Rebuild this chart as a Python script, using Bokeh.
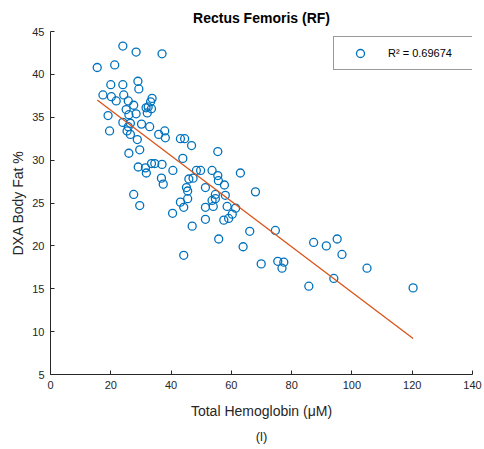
from bokeh.plotting import figure
from bokeh.models import Range1d, FixedTicker, Legend, LegendItem, Title
from bokeh.embed import file_html
from bokeh.resources import INLINE

thb = [24.0, 28.4, 37.0, 15.5, 21.3, 20.0, 24.0, 29.0, 29.3, 17.4,
       20.2, 21.8, 24.3, 25.8, 33.7, 33.2, 32.4, 31.7, 33.5, 27.6,
       25.1, 28.4, 26.0, 32.1, 19.1, 24.0, 26.5, 25.8, 30.2, 32.9,
       19.6, 25.4, 26.5, 35.9, 37.9, 38.1, 28.8, 43.1, 44.5, 46.8,
       26.0, 29.6, 29.1, 31.8, 31.5, 33.5, 34.6, 37.0, 40.6, 43.9,
       36.8, 37.4, 27.6, 29.6, 40.5, 43.1, 44.2, 47.0, 55.5, 48.4,
       49.8, 53.6, 63.0, 45.9, 47.3, 55.5, 55.7, 57.7, 45.1, 45.5,
       51.4, 68.0, 45.5, 54.7, 58.0, 53.6, 54.7, 51.4, 54.0, 58.6,
       61.4, 60.3, 59.1, 57.5, 51.4, 74.6, 66.1, 55.8, 63.9, 44.2,
       69.9, 75.4, 77.4, 76.8, 87.3, 91.5, 95.1, 96.7, 105.0, 94.0,
       85.7, 120.3]
fat = [43.3, 42.6, 42.4, 40.8, 41.1, 38.8, 38.8, 39.2, 38.3, 37.6,
       37.4, 36.9, 37.6, 36.9, 37.2, 36.8, 36.2, 36.1, 36.0, 36.4,
       35.9, 35.4, 35.3, 35.5, 35.2, 34.4, 34.3, 33.9, 34.2, 33.9,
       33.4, 33.4, 33.0, 33.0, 33.4, 32.6, 32.4, 32.5, 32.5, 31.7,
       30.8, 31.2, 29.2, 28.5, 29.1, 29.6, 29.6, 29.5, 28.8, 30.2,
       27.9, 27.2, 26.0, 24.7, 23.8, 25.1, 24.5, 22.3, 31.0, 28.8,
       28.8, 28.8, 28.5, 27.8, 27.9, 28.2, 27.6, 27.1, 26.8, 26.4,
       26.8, 26.3, 25.5, 26.0, 25.9, 25.3, 25.5, 24.5, 24.6, 24.6,
       24.4, 23.7, 23.2, 23.0, 23.1, 21.8, 21.7, 20.8, 19.9, 18.9,
       17.9, 18.2, 18.1, 17.4, 20.4, 20.0, 20.8, 19.0, 17.4, 16.2,
       15.3, 15.1]
fit_x = [15.5, 120.3]
fit_y = [37.0, 9.2]
x_ticks = [0, 20, 40, 60, 80, 100, 120, 140]
y_ticks = [5, 10, 15, 20, 25, 30, 35, 40, 45]

FONT = "Liberation Sans"
BLUE = "#0072BD"
ORANGE = "#D95319"
GREY = "#262626"

p = figure(width=484, height=449, output_backend="svg", toolbar_location=None,
           x_range=Range1d(0, 140), y_range=Range1d(5, 45),
           min_border_left=50, min_border_right=12, min_border_top=31,
           min_border_bottom=73)
p.outline_line_color = None
p.grid.visible = False
p.background_fill_color = "white"
p.border_fill_color = "white"

p.title.text = "Rectus Femoris (RF)"
p.title.align = "center"
p.title.text_font = FONT
p.title.text_font_size = "14px"
p.title.text_font_style = "bold"
p.title.text_color = "#000000"
p.title.standoff = 12

for ax in (p.xaxis[0], p.yaxis[0]):
    ax.major_tick_in = 4
    ax.major_tick_out = 0
    ax.minor_tick_line_color = None
    ax.axis_line_color = GREY
    ax.major_tick_line_color = GREY
    ax.major_label_text_font = FONT
    ax.major_label_text_font_size = "11px"
    ax.major_label_text_color = GREY
    ax.axis_label_text_font = FONT
    ax.axis_label_text_font_size = "14px"
    ax.axis_label_text_font_style = "normal"
    ax.axis_label_text_color = GREY

p.xaxis.ticker = FixedTicker(ticks=x_ticks)
p.yaxis.ticker = FixedTicker(ticks=y_ticks)
p.xaxis.major_label_standoff = 6
p.yaxis.major_label_standoff = 6
p.yaxis.axis_label = "DXA Body Fat %"
p.yaxis.axis_label_standoff = 3
p.xaxis.axis_label = "Total Hemoglobin (\u03bcM)"
p.xaxis.axis_label_standoff = 11

sc = p.scatter(thb, fat, size=8, marker="circle", fill_color=None,
               line_color=BLUE, line_width=1.3)
p.line(fit_x, fit_y, line_color=ORANGE, line_width=1.3)

leg = Legend(items=[LegendItem(label="R\u00b2 = 0.69674", renderers=[sc])],
             location=(283, 304), orientation="vertical")
leg.label_text_font = FONT
leg.label_text_font_size = "11px"
leg.label_text_color = "#000000"
leg.border_line_color = "#333333"
leg.border_line_width = 1.5
leg.padding = 6
leg.margin = 0
leg.glyph_width = 40
leg.label_standoff = 8
leg.label_width = 80
p.add_layout(leg, "center")

p.add_layout(Title(text="(l)", align="center", text_font=FONT,
                   text_font_size="13px", text_font_style="normal",
                   text_color=GREY, standoff=11), "below")

open("out.html", "w").write(file_html(p, INLINE))
